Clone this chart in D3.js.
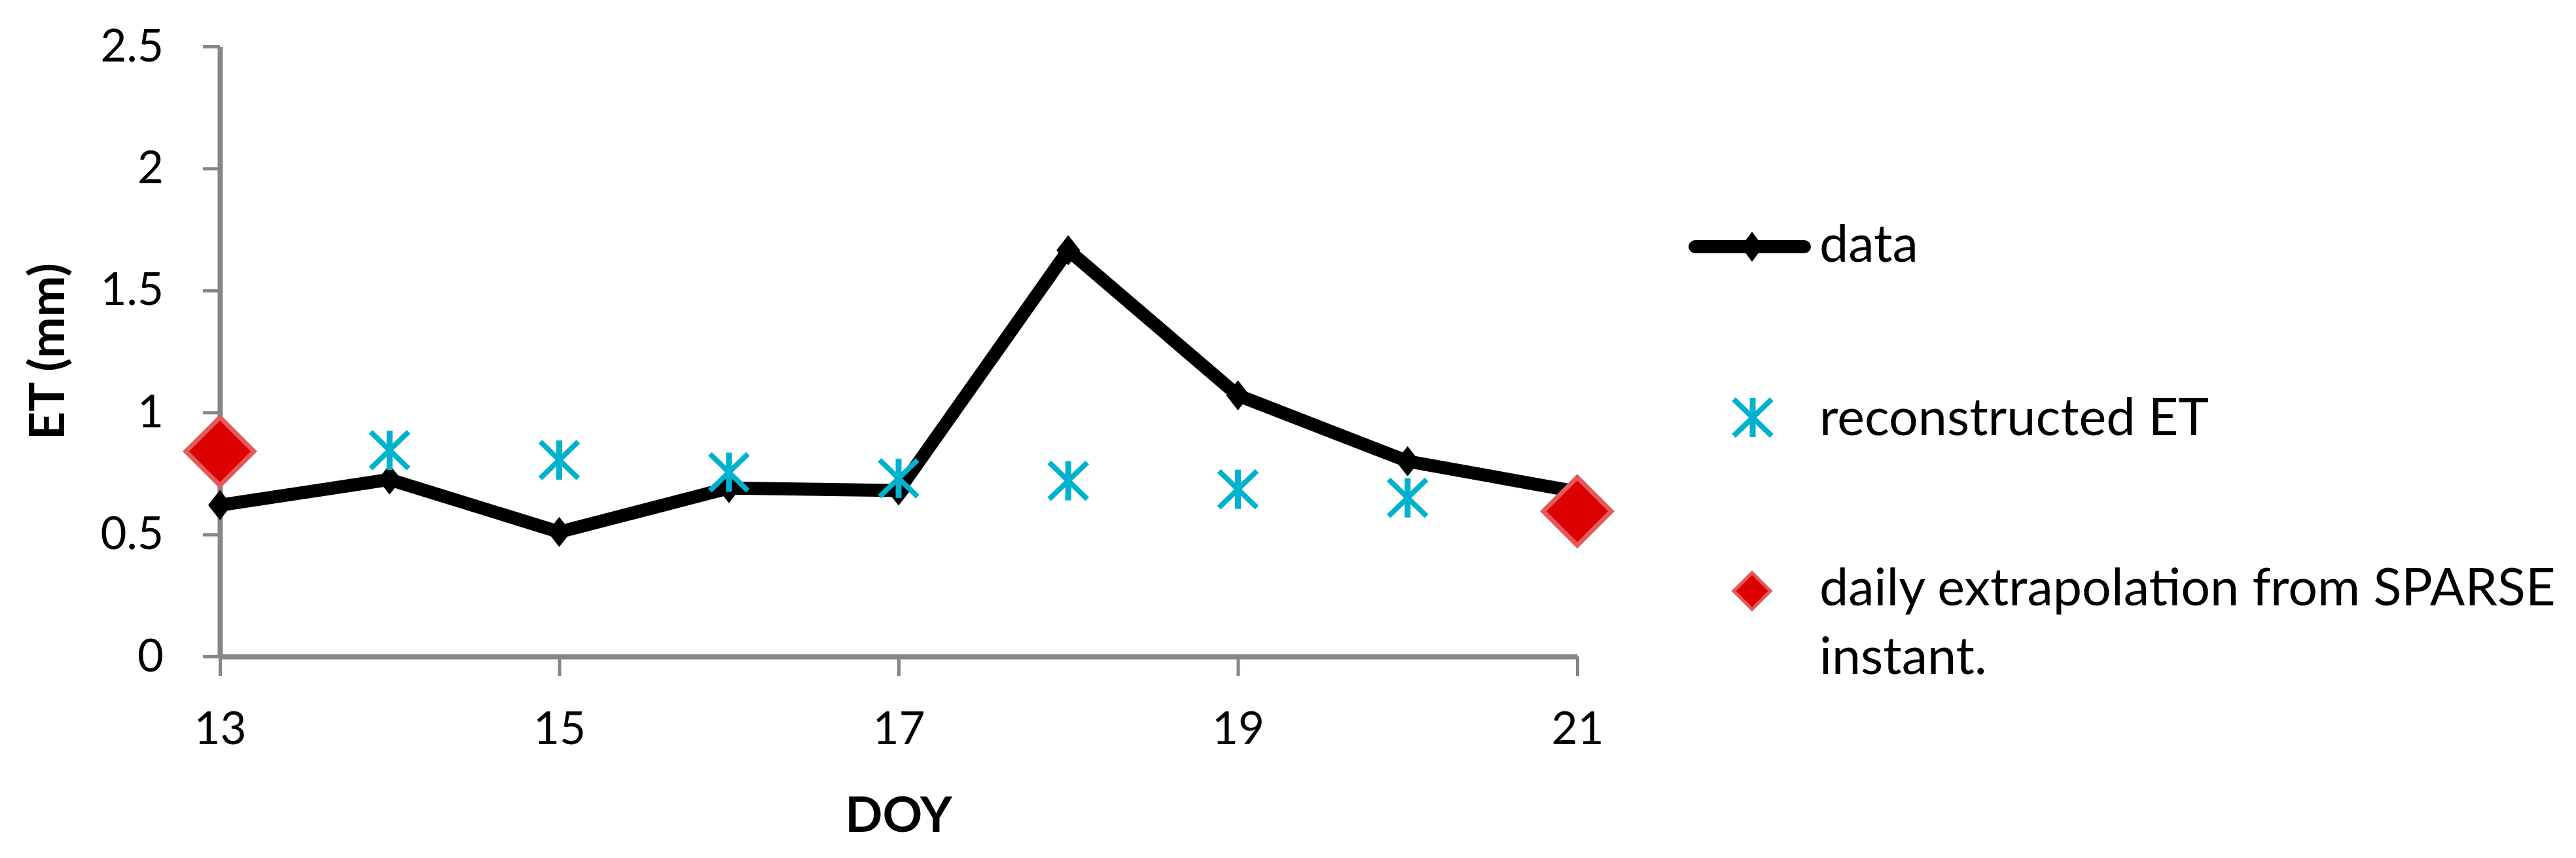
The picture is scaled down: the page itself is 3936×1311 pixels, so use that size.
<!DOCTYPE html>
<html><head><meta charset="utf-8">
<script src="https://cdn.jsdelivr.net/npm/d3@7"></script>
<style>body{margin:0;background:#fff} svg{display:block}</style>
</head><body>
<script>
// ---- data ----
const days = [13, 14, 15, 16, 17, 18, 19, 20, 21];
const dataET = [0.62, 0.725, 0.51, 0.69, 0.68, 1.665, 1.07, 0.80, 0.675];
const reconET = [null, 0.845, 0.805, 0.755, 0.73, 0.72, 0.685, 0.65, null];
const sparseDays = [13, 21];
const sparseET = [0.84, 0.595];
const xTicks = [13, 15, 17, 19, 21];
const yTicks = [0, 0.5, 1, 1.5, 2, 2.5];
const seriesNames = ["data", "reconstructed ET", "daily extrapolation from SPARSE instant."];
const xTitle = "DOY";
const yTitle = "ET (mm)";

const W = 3936, H = 1311;
const FONT = "Lato, 'Open Sans', sans-serif";
const AXIS = "#868686";
const CYAN = "#00B2CE";
const RED = "#DD0000";

const svg = d3.select("body").append("svg").attr("width", W).attr("height", H)
  .style("font-family", FONT);

// scale a group of texts so that a reference text gets a target width (Calibri substitute)
function fit(sel, refNode, target, base) {
  const w = refNode.getComputedTextLength();
  const fs = base * target / w;
  sel.style("font-size", fs + "px");
  return fs;
}

const x = d3.scaleLinear().domain([13, 21]).range([336, 2410]);
const y = d3.scaleLinear().domain([0, 2.5]).range([1003, 71]);

// axes
const yAxis = d3.axisLeft(y).tickValues(yTicks).tickSize(26).tickSizeOuter(0).tickPadding(60)
  .tickFormat(d => String(d));
const gy = svg.append("g").attr("transform", `translate(${x(13)},0)`).call(yAxis);
const xAxis = d3.axisBottom(x).tickValues(xTicks).tickSize(30).tickSizeOuter(0).tickPadding(55)
  .tickFormat(d => String(d));
const gx = svg.append("g").attr("transform", `translate(0,${y(0)})`).call(xAxis);

[gx, gy].forEach(g => {
  g.select(".domain").attr("stroke", AXIS).attr("stroke-width", 8);
  g.selectAll(".tick line").attr("stroke", AXIS).attr("stroke-width", 5);
  g.selectAll(".tick text").attr("fill", "#000").style("font-size", "76px").style("font-family", FONT);
});
{
  const t25 = gy.selectAll(".tick text").filter(d => d === 2.5).node();
  const t13 = gx.selectAll(".tick text").filter(d => d === 13).node();
  const r = (98 / t25.getComputedTextLength() + 79 / t13.getComputedTextLength()) / 2;
  const fs = Math.min(80, Math.max(68, 76 * r));
  gx.selectAll(".tick text").style("font-size", fs + "px");
  gy.selectAll(".tick text").style("font-size", fs + "px");
}

// axis titles
const tx = svg.append("text").attr("x", 1373).attr("y", 1271).attr("text-anchor", "middle")
  .style("font-size", "80px").style("font-weight", "bold").text(xTitle);
const ty = svg.append("text").attr("transform", "translate(98,537) rotate(-90)").attr("text-anchor", "middle")
  .style("font-size", "80px").style("font-weight", "bold").text(yTitle);
{
  const r = (154 / tx.node().getComputedTextLength() + 286 / ty.node().getComputedTextLength()) / 2;
  const fs = Math.min(88, Math.max(72, 80 * r));
  tx.style("font-size", fs + "px"); ty.style("font-size", fs + "px");
}

// marker helpers
function diamond(w, h) { return `M0,${-h/2}L${w/2},0L0,${h/2}L${-w/2},0Z`; }
function drawStar(g, cx, cy) {
  const s = g.append("g").attr("transform", `translate(${cx},${cy})`)
    .attr("stroke", CYAN).attr("stroke-width", 8).attr("fill", "none");
  s.append("line").attr("x1", 0).attr("y1", -30).attr("x2", 0).attr("y2", 30).attr("stroke-width", 9);
  s.append("line").attr("x1", -29).attr("y1", -28).attr("x2", 29).attr("y2", 28);
  s.append("line").attr("x1", -29).attr("y1", 28).attr("x2", 29).attr("y2", -28);
}
function drawRed(g, cx, cy, size) {
  g.append("path").attr("transform", `translate(${cx},${cy})`).attr("d", diamond(size, size))
    .attr("fill", RED).attr("stroke", "#E35A5A").attr("stroke-width", size > 80 ? 7 : 5);
}

// data series
const pts = days.map((d, i) => ({ d, v: dataET[i] }));
const line = d3.line().x(p => x(p.d)).y(p => y(p.v));
const gData = svg.append("g");
gData.append("path").datum(pts).attr("d", line).attr("fill", "none").attr("stroke", "#000")
  .attr("stroke-width", 20).attr("stroke-linejoin", "round").attr("stroke-linecap", "round");
gData.selectAll("path.mk").data(pts).join("path").attr("class", "mk")
  .attr("transform", p => `translate(${x(p.d)},${y(p.v)})`).attr("d", diamond(36, 46)).attr("fill", "#000");

// reconstructed ET
const gRec = svg.append("g");
days.forEach((d, i) => { if (reconET[i] != null) drawStar(gRec, x(d), y(reconET[i])); });

// sparse
const gSp = svg.append("g");
sparseDays.forEach((d, i) => drawRed(gSp, x(d), y(sparseET[i]), 104));

// legend
const lg = svg.append("g").style("font-size", "78px");
lg.append("line").attr("x1", 2590).attr("x2", 2757).attr("y1", 377).attr("y2", 377)
  .attr("stroke", "#000").attr("stroke-width", 20).attr("stroke-linecap", "round");
lg.append("path").attr("transform", "translate(2677,377)").attr("d", diamond(34, 46)).attr("fill", "#000");
const l1 = lg.append("text").attr("x", 2780).attr("y", 400).text(seriesNames[0]);

drawStar(lg, 2678, 638);
lg.append("text").attr("x", 2780).attr("y", 665).text(seriesNames[1]);

drawRed(lg, 2677, 903, 56);
const words = seriesNames[2].split(" ");
lg.append("text").attr("x", 2780).attr("y", 925).text(words.slice(0, -1).join(" "));
const l4 = lg.append("text").attr("x", 2780).attr("y", 1030).text(words[words.length - 1]);
{
  const r = (150 / l1.node().getComputedTextLength() + 257 / l4.node().getComputedTextLength()) / 2;
  const fs = Math.min(86, Math.max(70, 78 * r));
  lg.style("font-size", fs + "px");
}
</script>
</body></html>
